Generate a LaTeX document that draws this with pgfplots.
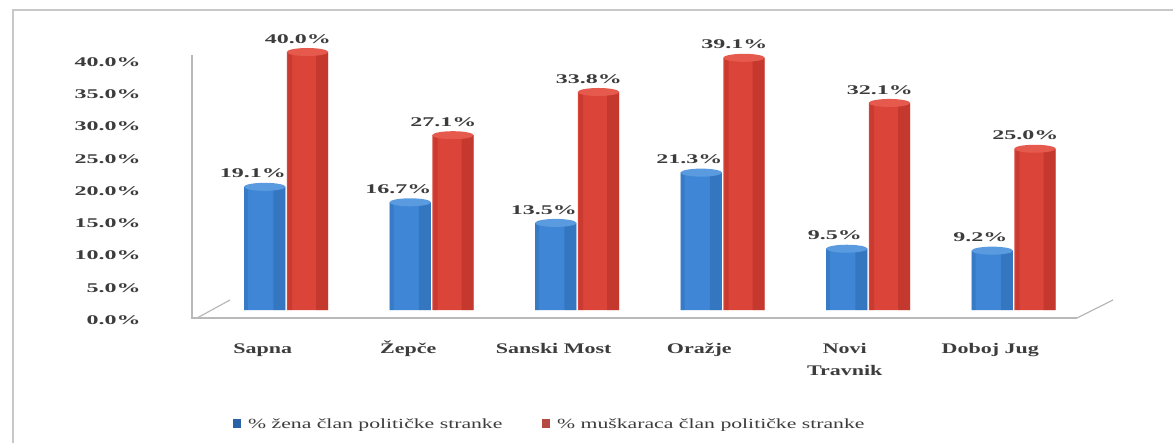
\documentclass[border=0pt]{standalone}
\usepackage{pgfplots}
\pgfplotsset{compat=1.18}
\usepackage{fontspec}
\setmainfont{Liberation Serif}
\usetikzlibrary{shapes.geometric}
\definecolor{bluemid}{HTML}{3F87D6}
\definecolor{bluedark}{HTML}{2A62A8}
\definecolor{bluecap}{HTML}{5A9BE0}
\definecolor{redmid}{HTML}{DB4438}
\definecolor{reddark}{HTML}{A82A22}
\definecolor{redcap}{HTML}{E65A4E}
\definecolor{txt}{HTML}{3C3C3C}
\definecolor{frame}{HTML}{C8C8C8}
\pgfplotstableread{
x women men
0 19.1 40.0
1 16.7 27.1
2 13.5 33.8
3 21.3 39.1
4 9.5 32.1
5 9.2 25.0
}\datatable
\pgfplotsset{
  lbl/.style={nodes near coords={\pgfmathprintnumber[fixed,fixed zerofill,precision=1]{\pgfplotspointmeta}\%},
    every node near coord/.append style={font=\bfseries\fontsize{10}{12}\selectfont, text=txt, xscale=1.8, anchor=south, yshift=3pt}},
  cap/.style={nodes near coords={},
    every node near coord/.append style={ellipse, minimum width=31pt, minimum height=6pt, inner sep=0pt, anchor=center, fill=#1}},
}
\begin{document}
\begin{tikzpicture}
\path[use as bounding box] (0,0) rectangle (879.75pt,332.25pt);
% outer frame (cropped)
\draw[frame, line width=1.5pt] (9.4pt,0) -- (9.4pt,324.75pt) -- (879.75pt,324.75pt);
\begin{axis}[
  at={(142.5pt,92.25pt)}, anchor=south west,
  scale only axis, width=654.75pt, height=193.5pt,
  xmin=-0.5, xmax=5.5, ymin=0, ymax=40,
  clip=false,
  axis line style={draw=none},
  ytick={0,5,...,40},
  xtick={0,...,5},
  xticklabels={Sapna,Žepče,Sanski Most,Oražje,Novi\\Travnik,Doboj Jug},
  major tick length=0pt,
  /pgf/number format/assume math mode=true,
  yticklabel={\pgfmathprintnumber[fixed,fixed zerofill,precision=1]{\tick}\%},
  yticklabel style={font=\bfseries\fontsize{10}{12}\selectfont, text=txt, xscale=1.8, anchor=east, xshift=-17pt},
  typeset ticklabels with strut,
  xticklabel style={font=\bfseries\fontsize{11}{16.5}\selectfont, text=txt, xscale=1.5, align=center, yshift=-10pt},
  ybar, bar width=31pt,
  legend style={at={(0.412,-0.405)}, anchor=center, draw=none, fill=none,
    legend columns=2, font=\fontsize{10.5}{12}\selectfont, text=txt,
    /tikz/every odd column/.append style={column sep=4pt},
    /tikz/every even column/.append style={column sep=28pt},
    nodes={xscale=1.55, inner sep=1pt}},
  legend cell align=left,
]
% main bars
\addplot[bar shift=1.5pt, draw=none, fill=bluemid, yshift=7.5pt,
  legend image code/.code={\fill[bluedark] (0pt,-10pt) rectangle (6pt,-3.5pt);}]
  table[x=x, y=women] {\datatable};
\addlegendentry{\% žena član političke stranke}
\addplot[bar shift=33.5pt, draw=none, fill=redmid, yshift=7.5pt,
  legend image code/.code={\fill[reddark!85!white] (0pt,-10pt) rectangle (6pt,-3.5pt);}]
  table[x=x, y=men] {\datatable};
\addlegendentry{\% muškaraca član političke stranke}
% cylinder shading strips
\addplot[forget plot, bar width=9pt, bar shift=12.5pt, draw=none, fill=bluedark, fill opacity=0.45, yshift=7.5pt]
  table[x=x, y=women] {\datatable};
\addplot[forget plot, bar width=3pt, bar shift=-12.5pt, draw=none, fill=bluedark, fill opacity=0.35, yshift=7.5pt]
  table[x=x, y=women] {\datatable};
\addplot[forget plot, bar width=9pt, bar shift=44.5pt, draw=none, fill=reddark, fill opacity=0.45, yshift=7.5pt]
  table[x=x, y=men] {\datatable};
\addplot[forget plot, bar width=3pt, bar shift=20.5pt, draw=none, fill=reddark, fill opacity=0.35, yshift=7.5pt]
  table[x=x, y=men] {\datatable};
% cylinder caps
\addplot[forget plot, bar shift=1.5pt, draw=none, fill=none, yshift=7.5pt, cap=bluecap]
  table[x=x, y=women] {\datatable};
\addplot[forget plot, bar shift=33.5pt, draw=none, fill=none, yshift=7.5pt, cap=redcap]
  table[x=x, y=men] {\datatable};
% value labels
\addplot[forget plot, bar shift=1.5pt, draw=none, fill=none, yshift=7.5pt, lbl,
  every node near coord/.append style={xshift=-5pt}]
  table[x=x, y=women] {\datatable};
\addplot[forget plot, bar shift=33.5pt, draw=none, fill=none, yshift=7.5pt, lbl,
  every node near coord/.append style={xshift=-4pt}]
  table[x=x, y=men] {\datatable};
\end{axis}
% floor and wall lines
\draw[gray!55, line width=0.9pt] (144pt,291pt) -- (144pt,93.75pt) -- (807.75pt,93.75pt);
\draw[gray!55, line width=0.9pt] (147.75pt,93.75pt) -- (172.5pt,107.25pt);
\draw[gray!55, line width=0.9pt] (807.75pt,93.75pt) -- (834.75pt,107.25pt);
\end{tikzpicture}
\end{document}
